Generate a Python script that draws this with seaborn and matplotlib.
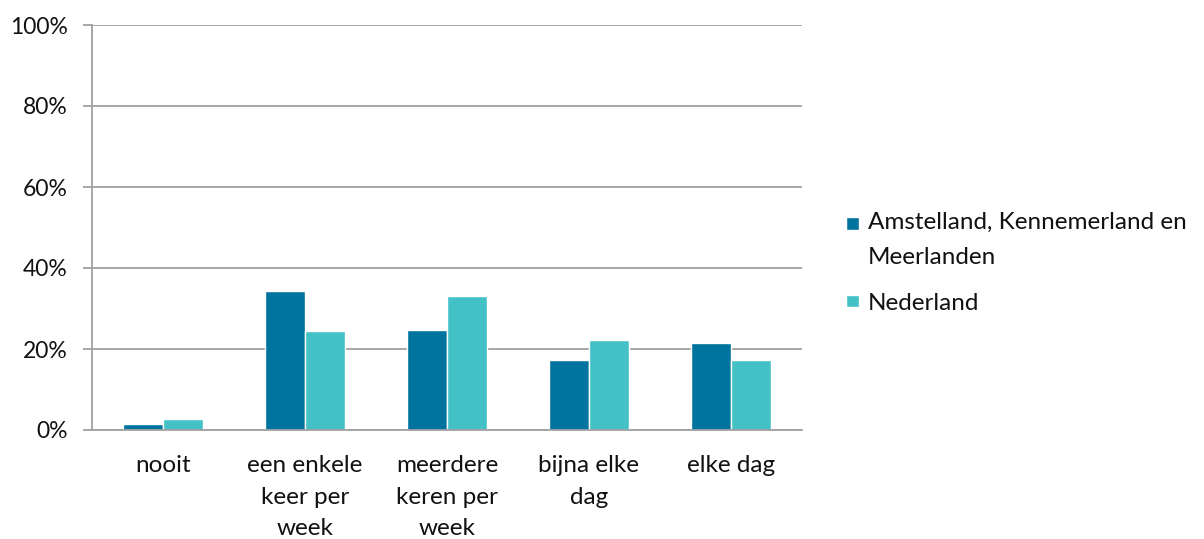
import matplotlib
matplotlib.use("Agg")
import matplotlib.pyplot as plt
from matplotlib.ticker import MultipleLocator, FixedLocator, PercentFormatter
from matplotlib.legend_handler import HandlerPatch
from matplotlib.patches import Rectangle
import seaborn as sns
import pandas as pd

# data (percentages)
categories = ["nooit", "een enkele\nkeer per\nweek", "meerdere\nkeren per\nweek",
              "bijna elke\ndag", "elke dag"]
regio = [1.5, 34.3, 24.8, 17.4, 21.5]
nederland = [2.6, 24.4, 33.1, 22.1, 17.3]
series_names = ["Amstelland, Kennemerland en\nMeerlanden", "Nederland"]
colors = ["#00739F", "#43C1C7"]

df = pd.DataFrame({
    "categorie": categories * 2,
    "reeks": [series_names[0]] * 5 + [series_names[1]] * 5,
    "waarde": regio + nederland,
})

sns.set_theme(style="white")
plt.rcParams["font.family"] = ["Lato", "DejaVu Sans"]
FS = 17.5

fig = plt.figure(figsize=(12.04, 5.39), dpi=100)
ax = fig.add_axes([92 / 1204, 1 - 430 / 539, 710 / 1204, 405 / 539])

sns.barplot(data=df, x="categorie", y="waarde", hue="reeks", palette=colors,
            width=0.57, saturation=1, ax=ax, legend=True)

ax.set_ylim(0, 100)
ax.set_xlim(-0.5, 4.5)
ax.yaxis.set_major_locator(MultipleLocator(20))
ax.yaxis.set_major_formatter(PercentFormatter(decimals=0))
ax.grid(axis="y", color="#A0A0A0", linewidth=1.3)
ax.set_axisbelow(True)
ax.set_xlabel("")
ax.set_ylabel("")

for side in ["top", "right"]:
    ax.spines[side].set_visible(False)
for side in ["left", "bottom"]:
    ax.spines[side].set_color("#A0A0A0")
    ax.spines[side].set_linewidth(1.3)

# tick marks at category boundaries, labels centred
ax.xaxis.set_major_locator(FixedLocator([-0.5, 0.5, 1.5, 2.5, 3.5, 4.5]))
ax.xaxis.set_major_formatter(plt.NullFormatter())
ax.xaxis.set_minor_locator(FixedLocator(range(5)))
ax.xaxis.set_minor_formatter(plt.FixedFormatter(categories))
ax.tick_params(axis="x", which="major", length=7, width=1.3, color="#A0A0A0", direction="out")
ax.tick_params(axis="x", which="minor", length=0, pad=18, labelsize=FS, labelcolor="#111111")
ax.tick_params(axis="y", length=6.5, width=1.3, color="#A0A0A0", direction="out", left=True,
               labelsize=16.5, labelcolor="#111111", pad=11)
for lbl in ax.xaxis.get_minorticklabels():
    lbl.set_verticalalignment("top")
    lbl.set_linespacing(1.63)


def square(shift):
    def make(legend, orig_handle, xdescent, ydescent, width, height, fontsize):
        s = 9
        return Rectangle((-xdescent, -ydescent + (height - s) / 2 + shift), s, s)
    return make


handles, labels = ax.get_legend_handles_labels()
leg = ax.legend(handles, labels, loc="upper left", bbox_to_anchor=(846 / 1204, 1 - 212 / 539),
                bbox_transform=fig.transFigure, frameon=False, fontsize=FS,
                borderpad=0, borderaxespad=0,
                handlelength=0.49, handleheight=0.49, handletextpad=0.41, labelspacing=1.0,
                handler_map={handles[0]: HandlerPatch(patch_func=square(12)),
                             handles[1]: HandlerPatch(patch_func=square(0))})
for t in leg.get_texts():
    t.set_linespacing(1.85)
    t.set_color("#111111")

fig.savefig("out.png", dpi=100)
